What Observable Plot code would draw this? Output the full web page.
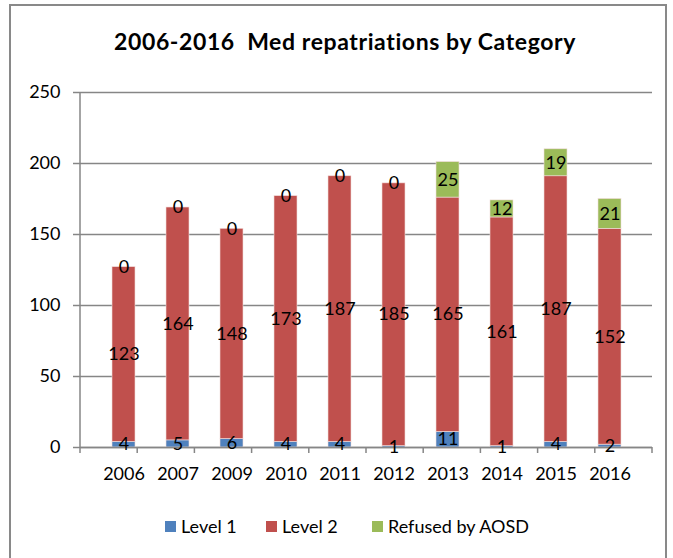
<!DOCTYPE html>
<html><head><meta charset="utf-8">
<script src="https://cdn.jsdelivr.net/npm/d3@7"></script>
<script src="https://cdn.jsdelivr.net/npm/@observablehq/plot@0.6"></script>
<style>
body{margin:0;background:#fff;}
#wrap{position:relative;width:673px;height:558px;overflow:hidden;font-family:Lato,"Open Sans",sans-serif;background:#fff;}
#frame{position:absolute;left:9px;top:4px;width:658px;height:620px;border:2px solid #898989;box-sizing:border-box;}
#title{position:absolute;top:27px;left:10px;width:670px;text-align:center;font-weight:bold;font-size:23px;letter-spacing:0.6px;white-space:pre;color:#000;}
#chart{position:absolute;left:0;top:0;}
#legend{position:absolute;top:514px;left:0;width:673px;height:24px;font-size:18px;color:#000;}
#legend span.it{position:absolute;top:0;display:flex;align-items:center;gap:5px;line-height:24px;}
#legend i{display:inline-block;width:11px;height:11px;}
</style></head>
<body><div id="wrap"><div id="frame"></div><div id="title">2006-2016  Med repatriations by Category</div><div id="chart"></div><div id="legend"></div></div>
<script>
const years = ["2006","2007","2009","2010","2011","2012","2013","2014","2015","2016"];
const seriesNames = ["Level 1","Level 2","Refused by AOSD"];
const level1 = [4,5,6,4,4,1,11,1,4,2];
const level2 = [123,164,148,173,187,185,165,161,187,152];
const refused = [0,0,0,0,0,0,25,12,19,21];
const colors = ["#4F81BD","#C0504D","#9BBB59"];
const yTicks = [0,50,100,150,200,250];

const seriesValues = [level1, level2, refused];
const rows = [];
years.forEach((yr, i) => {
  seriesNames.forEach((s, j) => rows.push({year: yr, series: s, value: seriesValues[j][i]}));
});

const W = 673, H = 500;
const plot = Plot.plot({
  width: W, height: H,
  marginLeft: 80, marginRight: 21, marginTop: 92, marginBottom: 53,
  style: {fontFamily: "Lato, 'Open Sans', sans-serif", fontSize: "18px", color: "#000", background: "transparent", overflow: "visible"},
  x: {domain: years, padding: 0.58, label: null},
  y: {domain: [0, 250], ticks: yTicks, label: null},
  color: {domain: seriesNames, range: colors},
  marks: [
    Plot.gridY(yTicks, {stroke: "#868686", strokeOpacity: 1, strokeWidth: 1.5}),
    Plot.barY(rows, Plot.stackY({x: "year", y: "value", fill: "series", stroke: "#f2dcdb", strokeWidth: 0.6, order: null})),
    Plot.ruleY([0], {stroke: "#868686", strokeWidth: 1.5}),
    Plot.axisY(yTicks, {tickSize: 7, tickPadding: 13, stroke: "#868686", strokeWidth: 1.5, fontSize: 18, label: null}),
    Plot.axisX({tickSize: 0, tickPadding: 20, fontSize: 18, label: null}),
    Plot.text(rows, Plot.stackY({x: "year", y: "value", z: "series", text: d => String(d.value), fill: "#000", fontSize: 18, order: null}))
  ]
});
document.getElementById("chart").appendChild(plot);

// axis line and category boundary ticks using the plot's own scales
const xs = plot.scale("x"), ys = plot.scale("y");
const svg = d3.select(plot);
const y0 = ys.apply(0), yTop = ys.apply(250);
const left = xs.range[0], right = xs.range[1];
svg.append("line").attr("x1", left).attr("x2", left).attr("y1", yTop).attr("y2", y0 + 1)
  .attr("stroke", "#868686").attr("stroke-width", 1.5);
const step = (right - left) / years.length;
for (let k = 0; k <= years.length; k++) {
  const xx = left + k * step;
  svg.append("line").attr("x1", xx).attr("x2", xx).attr("y1", y0).attr("y2", y0 + 6)
    .attr("stroke", "#868686").attr("stroke-width", 1.5);
}

const lg = document.getElementById("legend");
const legendLeft = [165, 266, 372];
seriesNames.forEach((s, j) => {
  const sp = document.createElement("span"); sp.className = "it";
  sp.style.left = legendLeft[j] + "px";
  const sw = document.createElement("i"); sw.style.background = colors[j];
  sp.appendChild(sw); sp.appendChild(document.createTextNode(s));
  lg.appendChild(sp);
});
</script></body></html>
